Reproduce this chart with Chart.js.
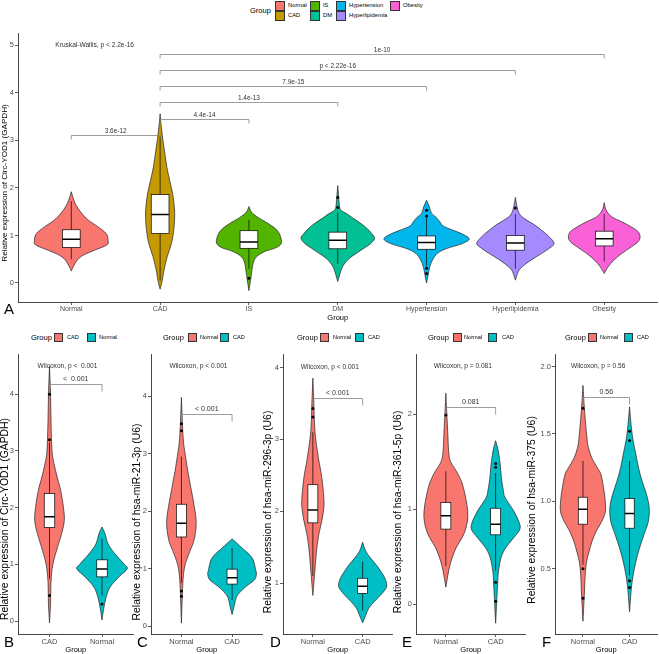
<!DOCTYPE html>
<html><head><meta charset="utf-8">
<script src="https://cdn.jsdelivr.net/npm/chart.js@4"></script>
<style>
html,body{margin:0;padding:0;background:#fff}
body{width:659px;height:654px;overflow:hidden;position:relative;font-family:"Liberation Sans",Arial,sans-serif}
.t{position:absolute;white-space:nowrap;line-height:1;transform:translateY(-50%);color:#000}
.k{position:absolute;box-sizing:border-box;border:0.8px solid #333}
.L{position:absolute;white-space:nowrap;line-height:1;font-size:15px;color:#000}
canvas{position:absolute}
</style></head><body>
<script>
// ---------------- DATA ----------------
// Panel A
const catsA = ['Normal','CAD','IS','DM','Hypertension','Hyperlipidemia','Obesity'];
const yTicksA = [0,1,2,3,4,5];
const yTickLabelsA = ['0','1','2','3','4','5'];
// box stats: [whisker low, q1, median, q3, whisker high]
const boxA = [
  [0.50,0.75,0.92,1.12,1.72],
  [0.05,1.04,1.44,1.86,3.10],
  [0.30,0.73,0.86,1.10,1.33],
  [0.40,0.72,0.90,1.07,1.48],
  [0.35,0.71,0.85,0.99,1.38],
  [0.30,0.69,0.84,1.00,1.45],
  [0.45,0.78,0.93,1.09,1.45]
];
// outliers: [category index, value]
const outliersA = [[2,0.10],[3,1.80],[3,1.59],[4,1.53],[4,1.41],[4,0.31],[4,0.20],[5,1.58]];
// violin density profiles: [value, relative density]
const violinA = [
  [[1.92,0],[1.74,2.7],[1.6,6],[1.46,11],[1.32,17.7],[1.18,27.7],[1.04,36],[0.9,38],[0.8,36.7],[0.69,24],[0.59,12.7],[0.48,6],[0.34,2],[0.25,0]],
  [[3.56,0],[3.27,1.3],[2.99,3],[2.71,5],[2.43,7],[2.15,10],[1.87,13],[1.59,14.7],[1.38,15],[1.1,14],[0.83,11.7],[0.55,7.3],[0.27,4],[0.06,2.3],[-0.13,0]],
  [[1.61,0],[1.49,2.7],[1.38,9.3],[1.25,20],[1.11,29],[0.97,32.7],[0.83,33.3],[0.74,27.7],[0.66,16],[0.55,7.7],[0.41,4.3],[0.2,2.7],[0.06,1.7],[-0.16,0]],
  [[2.05,0],[1.8,1],[1.59,2],[1.52,4],[1.46,9],[1.36,16],[1.25,24],[1.15,30],[1.04,35],[0.94,38],[0.83,34],[0.73,27],[0.62,19],[0.52,12],[0.38,6],[0.24,3],[0.03,0]],
  [[1.74,0],[1.6,3],[1.47,5],[1.38,10],[1.28,14],[1.2,17],[1.12,26],[1.04,36],[0.93,44],[0.83,37],[0.72,20],[0.62,11],[0.48,6],[0.34,3.3],[0.2,2],[0.0,0]],
  [[1.8,0],[1.58,2],[1.43,5],[1.32,12],[1.22,20],[1.11,27],[0.97,35],[0.83,40],[0.73,35],[0.62,27],[0.48,16],[0.34,7],[0.24,3],[0.06,0]],
  [[1.69,0],[1.53,2],[1.39,8],[1.29,18],[1.18,28],[1.08,35],[0.97,37],[0.87,35],[0.76,28],[0.62,18],[0.48,10],[0.34,4],[0.2,0]]
];
// brackets: [from index, to index, value, label]
const bracketsA = [[0,1,3.12,'3.6e-12'],[1,2,3.46,'4.4e-14'],[1,3,3.80,'1.4e-13'],[1,4,4.14,'7.9e-15'],[1,5,4.48,'p < 2.22e-16'],[1,6,4.82,'1e-10']];
const testA = ['Kruskal-Wallis, p < 2.2e-16', 5.0];

// Panel B
const catsB = ['CAD','Normal'];
const yTicksB = [0,1,2,3,4];
const yTickLabelsB = ['0','1','2','3','4'];
const boxB = [[0.75,1.65,1.84,2.25,3.15],[0.45,0.78,0.92,1.08,1.45]];
const outliersB = [[0,4.0],[0,3.2],[0,0.45],[1,0.3]];
const violinB = [
  [[4.5,0],[4.0,1],[3.5,1.5],[3.0,2.5],[2.77,4.5],[2.54,7.5],[2.3,11],[2.0,13.7],[1.77,14.5],[1.53,11.7],[1.3,7.8],[1.0,3.3],[0.7,1.5],[0.3,1],[-0.03,0]],
  [[1.66,0],[1.54,3],[1.36,6],[1.19,12.5],[1.0,22],[0.92,24.7],[0.78,16.7],[0.6,8],[0.42,4],[0.2,1.5],[0.02,0]]
];
const bracketsB = [[0,1,4.18,'<  0.001']];
const testB = ['Wilcoxon, p <  0.001', 4.49];

// Panel C
const catsC = ['Normal','CAD'];
const yTicksC = [0,1,2,3,4];
const yTickLabelsC = ['0','1','2','3','4'];
const boxC = [[0.75,1.55,1.79,2.12,2.95],[0.45,0.73,0.84,0.99,1.35]];
const outliersC = [[0,3.52],[0,3.40],[0,0.61],[0,0.52]];
const violinC = [
  [[3.98,0],[3.5,1],[3.2,2],[3.0,3.5],[2.7,6],[2.4,9],[2.1,12],[1.8,14],[1.5,12],[1.3,8],[1.1,4],[0.9,2],[0.6,1],[0.05,0]],
  [[1.52,0],[1.45,4],[1.35,10],[1.25,16],[1.15,20],[1.0,22],[0.9,23],[0.8,21],[0.7,14],[0.6,8],[0.5,4],[0.35,2],[0.2,0]]
];
const bracketsC = [[0,1,3.69,'< 0.001']];
const testC = ['Wilcoxon, p < 0.001', 4.52];

// Panel D
const catsD = ['Normal','CAD'];
const yTicksD = [1,2,3,4];
const yTickLabelsD = ['1','2','3','4'];
const boxD = [[1.10,1.84,2.02,2.37,3.10],[0.62,0.86,0.96,1.07,1.30]];
const outliersD = [[0,3.43],[0,3.31]];
const violinD = [
  [[3.85,0],[3.5,1],[3.12,2],[2.75,5.5],[2.47,9],[2.19,11],[2.05,11],[1.87,9],[1.68,6],[1.45,3.7],[1.17,2],[1.0,1],[0.83,0]],
  [[1.57,0],[1.45,3],[1.35,8],[1.25,14],[1.15,19],[1.05,23],[0.95,24],[0.85,19],[0.75,12],[0.65,6],[0.55,3],[0.45,0]]
];
const bracketsD = [[0,1,3.58,'< 0.001']];
const testD = ['Wilcoxon, p < 0.001', 4.0];

// Panel E
const catsE = ['Normal','CAD'];
const yTicksE = [0,1,2];
const yTickLabelsE = ['0','1','2'];
const boxE = [[0.40,0.79,0.93,1.07,1.40],[0.35,0.73,0.84,1.01,1.38]];
const outliersE = [[0,1.99],[1,1.48],[1,1.44],[1,0.23],[1,0.03]];
const violinE = [
  [[2.22,0],[2.0,1],[1.8,2],[1.6,3],[1.5,5],[1.4,11],[1.3,16],[1.2,19],[1.05,22],[0.92,23],[0.8,21],[0.7,17],[0.6,11],[0.5,7],[0.4,4],[0.3,2],[0.18,0]],
  [[1.72,0],[1.6,3],[1.45,5],[1.33,6],[1.2,8],[1.12,10],[0.98,19],[0.85,25],[0.78,25],[0.7,19],[0.6,11],[0.5,6],[0.35,3],[0.2,2],[0.0,1],[-0.2,0]]
];
const bracketsE = [[0,1,2.08,'0.081']];
const testE = ['Wilcoxon, p = 0.081', 2.5];

// Panel F
const catsF = ['Normal','CAD'];
const yTicksF = [0.5,1.0,1.5,2.0];
const yTickLabelsF = ['0.5','1.0','1.5','2.0'];
const boxF = [[0.53,0.83,0.94,1.03,1.30],[0.45,0.80,0.91,1.02,1.30]];
const outliersF = [[0,1.69],[0,0.50],[0,0.28],[1,1.52],[1,1.45],[1,0.41],[1,0.36]];
const violinF = [
  [[1.86,0],[1.7,1.5],[1.5,4],[1.4,6],[1.32,10],[1.25,16],[1.2,20],[1.1,23],[1.0,25],[0.92,25],[0.85,21],[0.78,15],[0.7,10],[0.63,7],[0.55,4],[0.45,2.5],[0.3,1.5],[0.11,0]],
  [[1.7,0],[1.55,2],[1.45,4],[1.35,7],[1.25,10],[1.15,14],[1.05,19],[0.95,22],[0.85,21],[0.75,16],[0.65,11],[0.55,7],[0.45,4],[0.35,2],[0.18,0]]
];
const bracketsF = [[0,1,1.77,'0.56']];
const testF = ['Wilcoxon, p = 0.56', 2.0];

// ---------------- STYLE / LAYOUT ----------------
const FONT = '"Liberation Sans", Arial, sans-serif';
Chart.defaults.font.family = FONT;
const RED = '#F8766D', TEAL = '#00BFC4';
const colorsA = ['#F8766D','#C49A00','#53B400','#00C094','#00B6EB','#A58AFF','#FB61D7'];
const HALF = 0.48;   // max violin half width (category units)
const BOXH = 0.1;    // box half width

function spline(ctx, pts){
  for(let i=0;i<pts.length-1;i++){
    const p0=pts[Math.max(i-1,0)], p1=pts[i], p2=pts[i+1], p3=pts[Math.min(i+2,pts.length-1)];
    const t=1/6;
    ctx.bezierCurveTo(p1[0]+(p2[0]-p0[0])*t, p1[1]+(p2[1]-p0[1])*t,
                      p2[0]-(p3[0]-p1[0])*t, p2[1]-(p3[1]-p1[1])*t, p2[0], p2[1]);
  }
}

function violinPlugin(P){
  return {
    id:'violins'+P.id,
    beforeDatasetsDraw(chart){
      const xs=chart.scales.x, ys=chart.scales.y, ctx=chart.ctx, ca=chart.chartArea;
      const maxD=Math.max(...P.violins.flat().map(q=>q[1]));
      ctx.save();
      ctx.beginPath(); ctx.rect(ca.left,ca.top,ca.right-ca.left,ca.bottom-ca.top); ctx.clip();
      P.violins.forEach((prof,i)=>{
        const c=i+1;
        const right=prof.map(([y,d])=>[xs.getPixelForValue(c+d/maxD*HALF), ys.getPixelForValue(y)]);
        const left=prof.map(([y,d])=>[xs.getPixelForValue(c-d/maxD*HALF), ys.getPixelForValue(y)]).reverse();
        ctx.beginPath();
        ctx.moveTo(right[0][0],right[0][1]);
        spline(ctx,right);
        spline(ctx,left);
        ctx.closePath();
        ctx.fillStyle=P.colors[i]; ctx.fill();
        ctx.strokeStyle='#222'; ctx.lineWidth=0.7; ctx.stroke();
      });
      P.boxes.forEach(([lo,q1,md,q3,hi],i)=>{
        const c=i+1;
        const cx=xs.getPixelForValue(c), xl=xs.getPixelForValue(c-BOXH), xr=xs.getPixelForValue(c+BOXH);
        const pl=ys.getPixelForValue(lo), p1=ys.getPixelForValue(q1), pm=ys.getPixelForValue(md), p3=ys.getPixelForValue(q3), ph=ys.getPixelForValue(hi);
        ctx.strokeStyle='#000'; ctx.lineWidth=0.7;
        ctx.beginPath(); ctx.moveTo(cx,ph); ctx.lineTo(cx,p3); ctx.moveTo(cx,p1); ctx.lineTo(cx,pl); ctx.stroke();
        ctx.fillStyle='#fff'; ctx.fillRect(xl,p3,xr-xl,p1-p3);
        ctx.strokeRect(xl,p3,xr-xl,p1-p3);
        ctx.lineWidth=1.5;
        ctx.beginPath(); ctx.moveTo(xl,pm); ctx.lineTo(xr,pm); ctx.stroke();
      });
      ctx.restore();
    },
    afterDatasetsDraw(chart){
      const xs=chart.scales.x, ys=chart.scales.y, ctx=chart.ctx;
      ctx.save();
      ctx.strokeStyle='#858585'; ctx.lineWidth=0.8;
      ctx.fillStyle='#333'; ctx.textAlign='center'; ctx.textBaseline='bottom';
      ctx.font=P.fb+'px '+FONT;
      P.brackets.forEach(([a,b,y,label])=>{
        const x1=xs.getPixelForValue(a+1), x2=xs.getPixelForValue(b+1), py=Math.round(ys.getPixelForValue(y))+0.5;
        ctx.beginPath(); ctx.moveTo(x1,py+P.tip); ctx.lineTo(x1,py); ctx.lineTo(x2,py); ctx.lineTo(x2,py+P.tip); ctx.stroke();
        ctx.fillText(label,(x1+x2)/2,py-1.5);
      });
      ctx.textAlign='left'; ctx.textBaseline='middle';
      ctx.font=P.ft+'px '+FONT;
      ctx.fillText(P.test[0], xs.getPixelForValue(1)+P.testDx, ys.getPixelForValue(P.test[1]));
      ctx.restore();
    },
    afterDraw(chart){
      // y-axis title, placed as in the reference
      const ctx=chart.ctx;
      ctx.save();
      ctx.translate(P.tx-P.left, P.ty-P.top);
      ctx.rotate(-Math.PI/2);
      ctx.fillStyle='#000'; ctx.textAlign='center'; ctx.textBaseline='middle';
      ctx.font=P.fti+'px '+FONT;
      ctx.fillText(P.title,0,0);
      ctx.restore();
    }
  };
}

function makePanel(P){
  const cv=document.createElement('canvas');
  cv.width=P.w; cv.height=P.h;
  cv.style.left=P.left+'px'; cv.style.top=P.top+'px';
  cv.style.width=P.w+'px'; cv.style.height=P.h+'px';
  document.body.appendChild(cv);
  const n=P.cats.length;
  new Chart(cv,{
    type:'scatter',
    data:{datasets:[{data:P.outliers.map(([c,y])=>({x:c+1,y:y})),pointRadius:1.5,pointBackgroundColor:'#000',pointBorderWidth:0,pointHoverRadius:1.5}]},
    options:{
      responsive:false, animation:false, devicePixelRatio:1, events:[],
      layout:{padding:{left:0,right:1,top:4,bottom:0}},
      plugins:{legend:{display:false},tooltip:{enabled:false}},
      scales:{
        x:{type:'linear',min:0.4,max:n+0.6,
          afterBuildTicks:s=>{s.ticks=P.cats.map((c,i)=>({value:i+1}));},
          afterFit:s=>{s.height=P.xh;},
          ticks:{autoSkip:false,maxRotation:0,padding:0,color:'#4d4d4d',font:{size:P.fx},callback:(v,i)=>P.cats[i]},
          grid:{display:true,drawOnChartArea:false,drawTicks:true,tickLength:3,color:'#333',lineWidth:0.8},
          border:{display:true,color:'#333',width:0.9},
          title:{display:true,text:'Group',color:'#000',font:{size:P.fg},padding:{top:0,bottom:0}}
        },
        y:{type:'linear',min:P.ymin,max:P.ymax,
          afterBuildTicks:s=>{s.ticks=P.yticks.map(v=>({value:v}));},
          afterFit:s=>{s.width=P.yw;},
          ticks:{padding:1,color:'#4d4d4d',font:{size:P.fy},callback:(v,i)=>P.ylabels[i]},
          grid:{display:true,drawOnChartArea:false,drawTicks:true,tickLength:3,color:'#333',lineWidth:0.8},
          border:{display:true,color:'#333',width:0.9},
          title:{display:false}
        }
      }
    },
    plugins:[violinPlugin(P)]
  });
}

function txt(s,x,y,size){
  const d=document.createElement('div'); d.className='t';
  d.style.left=x+'px'; d.style.top=y+'px'; d.style.fontSize=size+'px'; d.textContent=s;
  document.body.appendChild(d);
}
function key(x,y,w,h,color){
  const d=document.createElement('div'); d.className='k';
  d.style.left=x+'px'; d.style.top=y+'px'; d.style.width=w+'px'; d.style.height=h+'px'; d.style.background=color;
  document.body.appendChild(d);
}
function letter(s,x,top){
  const d=document.createElement('div'); d.className='L';
  d.style.left=x+'px'; d.style.top=top+'px'; d.textContent=s;
  document.body.appendChild(d);
}

const common2 = {top:349,h:305,xh:20,fx:7.5,fy:7.5,fg:7.5,fti:10.4,fb:7,ft:6.6,tip:7,testDx:-12};
const panels=[
  {id:'A',left:0,top:28,w:659,h:294,xh:20,yw:18,cats:catsA,ymin:-0.4,ymax:5.25,yticks:yTicksA,ylabels:yTickLabelsA,
   title:'Relative expression of Circ-YOD1 (GAPDH)',tx:4.5,ty:183,colors:colorsA,violins:violinA,boxes:boxA,outliers:outliersA,
   brackets:bracketsA,test:testA,testDx:-16,tip:4,fx:7,fy:7.5,fg:7.5,fti:8.1,fb:6.5,ft:6.6},
  Object.assign({id:'B',left:0,w:135,yw:18,cats:catsB,ymin:-0.228,ymax:4.702,yticks:yTicksB,ylabels:yTickLabelsB,tx:5,ty:519,
   title:'Relative expression of Circ-YOD1 (GAPDH)',colors:[RED,TEAL],violins:violinB,boxes:boxB,outliers:outliersB,brackets:bracketsB,test:testB},common2),
  Object.assign({id:'C',left:131,w:133,yw:20,cats:catsC,ymin:-0.139,ymax:4.727,yticks:yTicksC,ylabels:yTickLabelsC,tx:137,ty:522,
   title:'Relative expression of hsa-miR-21-3p (U6)',colors:[RED,TEAL],violins:violinC,boxes:boxC,outliers:outliersC,brackets:bracketsC,test:testC},common2),
  Object.assign({id:'D',left:262,w:132,yw:21,cats:catsD,ymin:0.295,ymax:4.18,yticks:yTicksD,ylabels:yTickLabelsD,tx:268,ty:512,
   title:'Relative expression of hsa-miR-296-3p (U6)',colors:[RED,TEAL],violins:violinD,boxes:boxD,outliers:outliersD,brackets:bracketsD,test:testD},common2),
  Object.assign({id:'E',left:392,w:135,yw:24,cats:catsE,ymin:-0.314,ymax:2.628,yticks:yTicksE,ylabels:yTickLabelsE,tx:398,ty:512,
   title:'Relative expression of hsa-miR-361-5p (U6)',colors:[RED,TEAL],violins:violinE,boxes:boxE,outliers:outliersE,brackets:bracketsE,test:testE},common2),
  Object.assign({id:'F',left:526,w:133,yw:29,cats:catsF,ymin:0.015,ymax:2.089,yticks:yTicksF,ylabels:yTickLabelsF,tx:532,ty:510,
   title:'Relative expression of hsa-miR-375 (U6)',colors:[RED,TEAL],violins:violinF,boxes:boxF,outliers:outliersF,brackets:bracketsF,test:testF},common2)
];
panels.forEach(makePanel);

// Legend A (two rows, column-major)
txt('Group',250,10.7,7.5);
const colX=[275,310,336,390], rowY=[0.7,10.7];
catsA.forEach((c,i)=>{
  const col=Math.floor(i/2), row=i%2;
  key(colX[col],rowY[row],10,10,colorsA[i]);
  txt(c,colX[col]+13,rowY[row]+5,5.8);
});
// Legends B-F
const legPos=[[31,54,67,87,99],[163,188,200,220,233],[297,320,333,355,368],[428,453,464,488,502],[565,588,600,624,637]];
const legCats=[catsB,catsC,catsD,catsE,catsF];
legPos.forEach((p,i)=>{
  txt('Group',p[0],337.5,7.5);
  key(p[1],333,9,9,RED); txt(legCats[i][0],p[2],337.5,5.6);
  key(p[3],333,9,9,TEAL); txt(legCats[i][1],p[4],337.5,5.6);
});
// Panel letters
letter('A',4,301);
letter('B',4,634);
letter('C',137,634);
letter('D',270,634);
letter('E',402,634);
letter('F',542,634);
</script>
</body></html>
